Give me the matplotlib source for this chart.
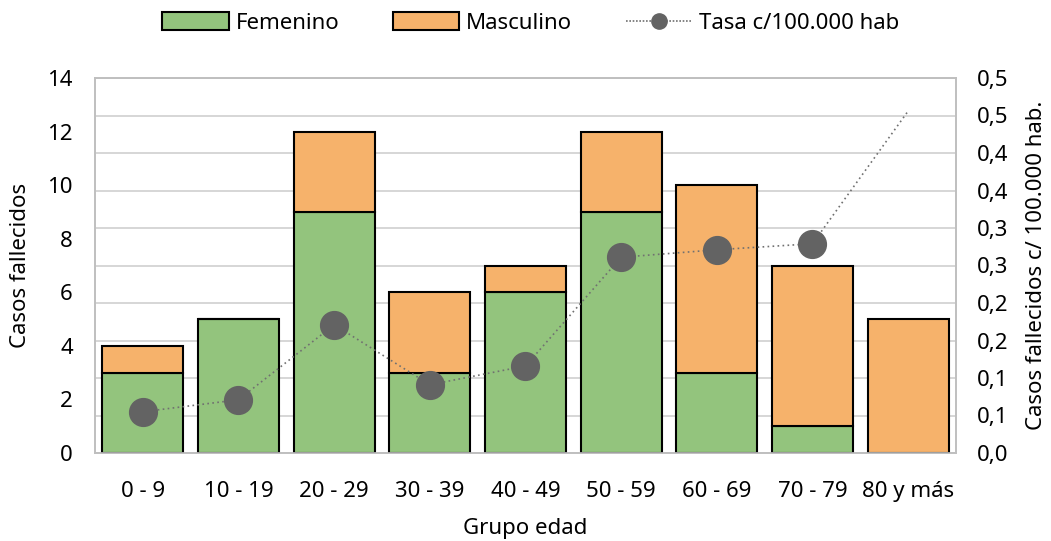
import matplotlib
matplotlib.use("Agg")
import matplotlib.pyplot as plt
from matplotlib.lines import Line2D
import numpy as np

plt.rcParams['font.family'] = ['Noto Sans', 'DejaVu Sans']

grupos = ["0 - 9", "10 - 19", "20 - 29", "30 - 39", "40 - 49",
          "50 - 59", "60 - 69", "70 - 79", "80 y más"]
femenino = [3, 5, 9, 3, 6, 9, 3, 1, 0]
masculino = [1, 0, 3, 3, 1, 3, 7, 6, 5]
tasa = [0.055, 0.071, 0.171, 0.091, 0.116, 0.261, 0.271, 0.279, 0.456]
izq_ticks = [0, 2, 4, 6, 8, 10, 12, 14]
der_ticks = [0.0, 0.05, 0.10, 0.15, 0.20, 0.25, 0.30, 0.35, 0.40, 0.45, 0.50]
der_labels = ["0,0", "0,1", "0,1", "0,2", "0,2", "0,3", "0,3", "0,4", "0,4", "0,5", "0,5"]

verde = "#93C47D"
naranja = "#F6B26B"
gris_grid = "#D0D0D0"
fs = 16

fig = plt.figure(figsize=(10.51, 5.41), dpi=100)
ax = fig.add_axes([95 / 1051, 1 - 453 / 541, 861 / 1051, 375 / 541])
ax2 = ax.twinx()

x = np.arange(len(grupos))
ax.bar(x, femenino, width=0.85, color=verde, edgecolor="black", linewidth=1.5,
       label="Femenino", zorder=3)
ax.bar(x, masculino, width=0.85, bottom=femenino, color=naranja, edgecolor="black",
       linewidth=1.5, label="Masculino", zorder=3)

ax.set_ylim(0, 14)
ax.set_yticks(izq_ticks)
ax.set_xlim(-0.5, len(grupos) - 0.5)
ax.set_xticks(x)
ax.set_xticklabels(grupos)
ax.tick_params(axis="x", length=0, labelsize=fs, colors="black", pad=20)
ax.tick_params(axis="y", length=0, labelsize=fs, colors="black", pad=16)

# secondary scale for the rate per 100.000 inhabitants
ax2.set_ylim(0, 0.5)
ax2.set_yticks(der_ticks)
ax2.set_yticklabels(der_labels)
ax2.tick_params(axis="y", length=0, labelsize=fs, pad=15)

ax.set_zorder(1)
ax.patch.set_visible(False)
ax2.set_zorder(2)
ax2.patch.set_visible(False)

ax2.plot(x, tasa, linestyle=(0, (1, 2)), color="#707070", linewidth=1.2,
         marker="o", markersize=20, markerfacecolor="#636363", markeredgecolor="#636363",
         markevery=list(range(len(grupos) - 1)), label="Tasa c/100.000 hab", zorder=5)

# horizontal gridlines at the secondary ticks, drawn behind the bars
for t in der_ticks:
    ax.axhline(t / 0.5 * 14, color=gris_grid, linewidth=1.2, zorder=0)

for a in (ax, ax2):
    for s in a.spines.values():
        s.set_color("#BFBFBF")
        s.set_linewidth(1.2)

ax.set_ylabel("Casos fallecidos", fontsize=fs, labelpad=12)
ax2.set_ylabel("Casos fallecidos c/ 100.000 hab.", fontsize=fs, labelpad=13)
ax.set_xlabel("Grupo edad", fontsize=fs, labelpad=12)

h1, l1 = ax.get_legend_handles_labels()
h2, l2 = ax2.get_legend_handles_labels()
linea = Line2D([], [], linestyle=(0, (1, 1)), color="#707070", linewidth=1.2,
               marker="o", markersize=11, markerfacecolor="#636363",
               markeredgecolor="#636363")
fig.legend(h1 + [linea], l1 + l2, loc="center", bbox_to_anchor=(0.505, 1 - 23 / 541),
           ncol=3, frameon=False, fontsize=fs, handlelength=3.0, handleheight=0.85,
           columnspacing=2.4, handletextpad=0.3)

fig.savefig("out.png", dpi=100)
